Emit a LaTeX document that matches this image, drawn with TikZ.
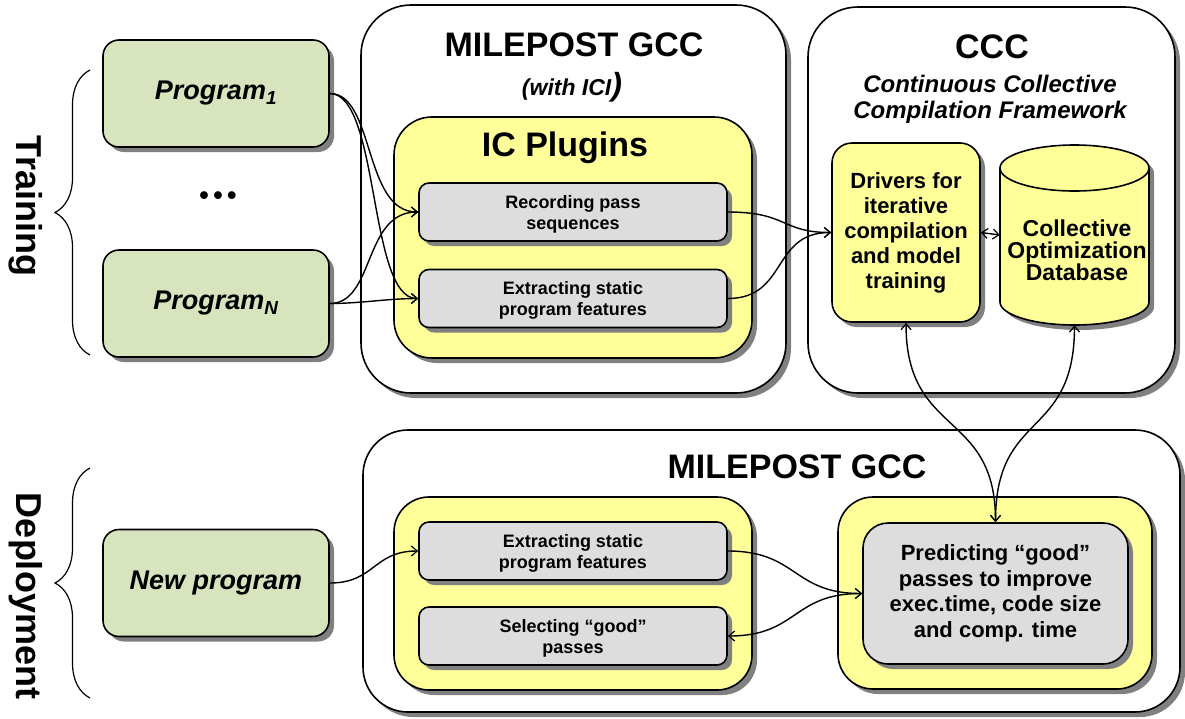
\documentclass[tikz,border=0pt]{standalone}
\usepackage{fontspec}
\setmainfont{Liberation Sans}
\usetikzlibrary{shadows,arrows.meta,decorations.pathreplacing}
\definecolor{grn}{HTML}{D7E4BD}
\definecolor{yel}{HTML}{FFFF99}
\definecolor{gry}{HTML}{DDDDDD}
\definecolor{shd}{HTML}{808080}
\newcommand{\fs}[2]{\fontsize{#1}{#2}\selectfont}
\begin{document}
\begin{tikzpicture}[x=1pt,y=-1pt,
  shadowed/.style={drop shadow={shadow xshift=5pt,shadow yshift=-5pt,fill=shd,opacity=1}},
  box/.style={draw=black, line width=1.6pt, shadowed, inner sep=0pt, align=center, rectangle},
  outerbox/.style={box, fill=white, rounded corners=50pt},
  yelbox/.style={box, fill=yel, rounded corners=38pt},
  graybox/.style={box, fill=gry, rounded corners=10pt, font=\bfseries\fs{18}{21}, minimum width=308pt, minimum height=58pt, text depth=-2pt},
  progbox/.style={box, fill=grn, rounded corners=16pt, font=\bfseries\itshape\fs{27}{30}, minimum width=226pt, minimum height=107pt},
  title/.style={font=\bfseries\fs{34}{36}, inner sep=0pt},
  conn/.style={line width=1.4pt, -{Straight Barb[length=6pt,width=10pt,line width=1.2pt]}},
  dconn/.style={line width=1.4pt, {Straight Barb[length=6pt,width=10pt,line width=1.2pt]}-{Straight Barb[length=6pt,width=10pt,line width=1.2pt]}},
  brc/.style={line width=1.2pt, decorate, decoration={brace, amplitude=35pt}},
  side/.style={font=\bfseries\fs{36}{38}, rotate=-90, inner sep=0pt}
]
\useasboundingbox (0,0) rectangle (1185,718);

% outer containers
\node[outerbox, minimum width=425pt, minimum height=388pt] (milA) at (573.5,199) {};
\node[outerbox, minimum width=367pt, minimum height=386pt] (ccc) at (991.5,200) {};
\node[outerbox, rounded corners=45pt, minimum width=817pt, minimum height=282pt] (milB) at (771.5,571) {};

% titles
\node[title] (tA) at (574,45) {MILEPOST GCC};
\node[inner sep=0pt, font=\bfseries\itshape] (tAsub) at (572,87) {\fs{23}{26}(with ICI\fs{32}{32})};
\node[title] (tC) at (992,47) {CCC};
\node[inner sep=0pt, align=center, font=\bfseries\itshape\fs{24}{26}] (tCsub) at (990,99) {Continuous Collective\\Compilation Framework};
\node[title] (tB) at (797,467) {MILEPOST GCC};

% IC plugins
\node[yelbox, minimum width=358pt, minimum height=241pt] (icp) at (573,237.5) {};
\node[title] (tI) at (565,148) {IC Plugins};
\node[graybox] (rec) at (573,212) {Recording pass\\sequences};
\node[graybox] (ext) at (573,298.5) {Extracting static\\program features};

% CCC content
\node[box, fill=yel, rounded corners=20pt, minimum width=148pt, minimum height=179pt, font=\bfseries\fs{22}{25}] (drv) at (906,232.5) {Drivers for\\iterative\\compilation\\and model\\training};
\path[fill=yel, draw=black, line width=1.6pt, shadowed] (1000,168) -- (1000,302) arc[start angle=180,end angle=360,x radius=74.5pt,y radius=23pt] -- (1149,168) arc[start angle=0,end angle=180,x radius=74.5pt,y radius=23pt] -- cycle;
\draw[line width=1.6pt] (1000,168) arc[start angle=180,end angle=360,x radius=74.5pt,y radius=23pt];
\node[inner sep=0pt, minimum width=149pt, minimum height=180pt] (db) at (1074.5,235) {};
\node[inner sep=0pt, align=center, font=\bfseries\fs{23}{22}] (dbt) at (1077,250) {Collective\\Optimization\\Database};

% programs
\node[progbox] (p1) at (216,93.5) {Program\textsubscript{1}};
\node[font=\bfseries\fs{27}{30}] (dots) at (218,198) {\textbullet\,\textbullet\,\textbullet};
\node[progbox] (pN) at (216,303.5) {Program\textsubscript{N}};
\node[progbox] (np) at (216,583) {New program};

% deployment content
\node[yelbox, rounded corners=35pt, minimum width=358pt, minimum height=193pt] (yb1) at (573,593.5) {};
\node[graybox] (extB) at (573,551) {Extracting static\\program features};
\node[graybox] (selB) at (573,636) {Selecting “good”\\passes};
\node[yelbox, rounded corners=35pt, minimum width=314pt, minimum height=192pt] (yb2) at (995,593) {};
\node[box, fill=gry, rounded corners=25pt, minimum width=265pt, minimum height=141pt, font=\bfseries\fs{22}{25.5}] (pred) at (995.5,593.5) {Predicting “good”\\passes to improve\\exec.time, code size\\and comp. time};

% side labels
\draw[brc] (90,355) -- (90,70);
\draw[brc] (90,698) -- (90,468);
\node[side] (lt) at (26,206) {Training};
\node[side] (ld) at (26,596) {Deployment};

% connectors
\draw[conn] (p1.east) .. controls +(45,0) and +(-55,0) .. (rec.west);
\draw[conn] (p1.east) .. controls +(50,0) and +(-50,0) .. (ext.west);
\draw[conn] (pN.east) .. controls +(45,0) and +(-55,0) .. (rec.west);
\draw[conn] (pN.east) .. controls +(30,0) and +(-30,0) .. (ext.west);
\draw[conn] (rec.east) .. controls +(60,0) and +(-50,0) .. (drv.west);
\draw[conn] (ext.east) .. controls +(60,0) and +(-60,0) .. (drv.west);
\draw[dconn] (drv.east) -- (db.west);
\draw[dconn] (drv.south) .. controls +(0,115) and +(0,-113) .. (pred.north);
\draw[dconn] (db.south) .. controls +(0,115) and +(0,-113) .. (pred.north);
\draw[conn] (np.east) .. controls +(45,0) and +(-45,0) .. (extB.west);
\draw[conn] (extB.east) .. controls +(70,0) and +(-70,0) .. (pred.west);
\draw[dconn] (selB.east) .. controls +(70,0) and +(-70,0) .. (pred.west);
\end{tikzpicture}
\end{document}
